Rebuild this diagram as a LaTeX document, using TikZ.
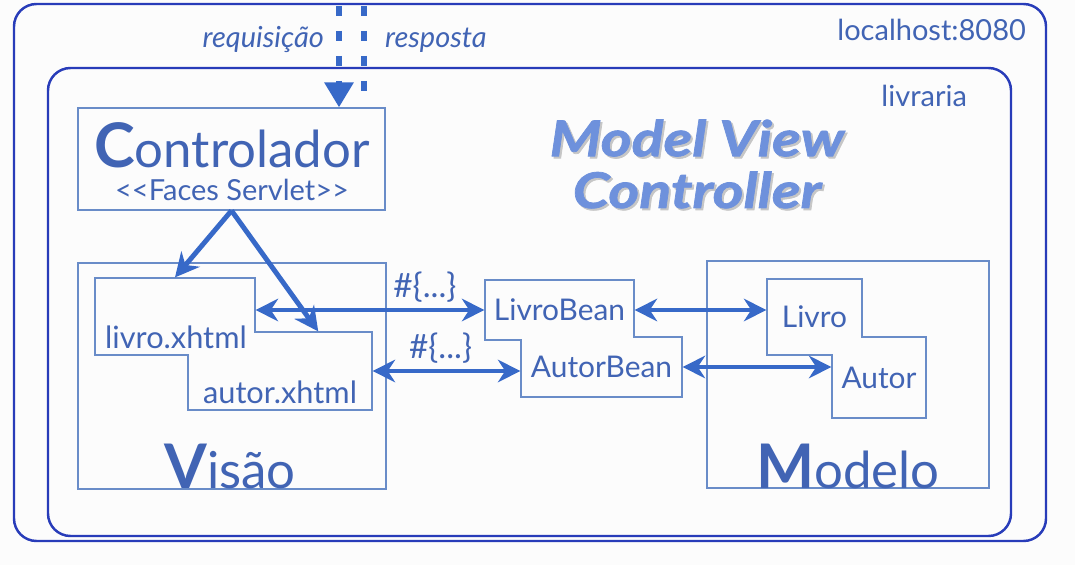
\documentclass[tikz,border=0pt]{standalone}
\usepackage{fontspec}
\setmainfont{Lato}
\newfontfamily\mvcfont{Lato}[FakeBold=1.5, FakeStretch=1.2]
\usetikzlibrary{arrows.meta}

\definecolor{framecol}{RGB}{40,60,185}
\definecolor{boxcol}{RGB}{105,140,200}
\definecolor{arrowcol}{RGB}{55,105,200}
\definecolor{textcol}{RGB}{65,100,180}
\definecolor{mvccol}{RGB}{110,145,220}
\definecolor{bgcol}{RGB}{252,252,252}

\tikzset{
  frame/.style={draw=framecol, line width=1.4pt, rounded corners=0.45cm},
  box/.style={draw=boxcol, line width=0.7pt, inner sep=0pt},
  txt/.style={text=textcol, inner sep=1pt},
  link/.style={draw=arrowcol, line width=2.8pt,
    {Stealth[length=0.45cm,width=0.45cm]}-{Stealth[length=0.45cm,width=0.45cm]}},
  ctrllink/.style={draw=arrowcol, line width=2.8pt, -{Stealth[length=0.48cm,width=0.48cm]}},
  web/.style={draw=arrowcol, line width=3.4pt, dash pattern=on 0.2cm off 0.3cm}
}

\begin{document}
\begin{tikzpicture}[x=0.02cm, y=-0.02cm]
  \fill[bgcol] (0,0) rectangle (1075,565);
  \useasboundingbox (0,0) rectangle (1075,565);

  % servidor e aplicacao
  \draw[frame] (14,4) rectangle (1046,541);
  \draw[frame] (48,68) rectangle (1011,536);
  \node[txt, anchor=east, font=\fontsize{16.5}{18}\selectfont] (host) at (1028,30) {localhost:8080};
  \node[txt, anchor=east, font=\fontsize{16.5}{18}\selectfont] (app) at (969,96) {livraria};

  % MVC
  \node[text=gray!45, align=center, font=\mvcfont\fontsize{28}{29.5}\selectfont\bfseries\itshape] (mvcshadow) at (699,166) {Model View\\Controller};
  \node[text=mvccol, align=center, font=\mvcfont\fontsize{28}{29.5}\selectfont\bfseries\itshape] (mvc) at (697,164) {Model View\\Controller};

  % caixas
  \node[box, minimum width=6.14cm, minimum height=2.04cm] (ctrl) at (231.5,159) {};
  \node[box, minimum width=6.16cm, minimum height=4.52cm] (visao) at (232,376) {};
  \node[box, minimum width=5.64cm, minimum height=4.54cm] (modelo) at (848,374.5) {};
  \node[box, minimum width=3.2cm, minimum height=1.54cm] (livroxhtml) at (175,316.5) {};
  \node[box, minimum width=3.68cm, minimum height=1.56cm] (autorxhtml) at (280,371) {};
  \node[box, minimum width=2.98cm, minimum height=1.2cm] (livrobean) at (559.5,310) {};
  \node[box, minimum width=3.22cm, minimum height=1.2cm] (autorbean) at (601.5,367) {};
  \node[box, minimum width=1.9cm, minimum height=1.52cm] (livro) at (814.5,317) {};
  \node[box, minimum width=1.88cm, minimum height=1.62cm] (autor) at (879,377.5) {};
  \foreach \b in {livroxhtml,autorxhtml,livrobean,autorbean,livro,autor}
    \fill[bgcol] ([shift={(0.75pt,0.75pt)}]\b.south west) rectangle ([shift={(-0.75pt,-0.75pt)}]\b.north east);

  % textos
  \node[txt, font=\fontsize{29}{30}\selectfont] (ctrltitle) at (232,145) {{\fontsize{35}{30}\selectfont\bfseries C}ontrolador};
  \node[txt, font=\fontsize{16.5}{18}\selectfont] (ctrlsub) at (232,190) {<{}<Faces Servlet>{}>};
  \node[txt, font=\fontsize{29}{30}\selectfont] (visaotxt) at (230,466) {{\fontsize{35}{30}\selectfont\bfseries V}isão};
  \node[txt, font=\fontsize{29}{30}\selectfont] (modelotxt) at (848,466) {{\fontsize{35}{30}\selectfont\bfseries M}odelo};
  \node[txt, font=\fontsize{17.5}{20}\selectfont] (livroxhtmltxt) at (176,337) {livro.xhtml};
  \node[txt, font=\fontsize{17.5}{20}\selectfont] (autorxhtmltxt) at (280,392) {autor.xhtml};
  \node[txt, font=\fontsize{17}{20}\selectfont] (livrobeantxt) at (livrobean) {LivroBean};
  \node[txt, font=\fontsize{17}{20}\selectfont] (autorbeantxt) at (autorbean) {AutorBean};
  \node[txt, font=\fontsize{17}{20}\selectfont] (livrotxt) at (livro) {Livro};
  \node[txt, font=\fontsize{17}{20}\selectfont] (autortxt) at (autor) {Autor};

  % requisicao e resposta
  \coordinate (reqtop) at (339,6);
  \coordinate (resptop) at (364,6);
  \coordinate (respbot) at (364,94);
  \draw[web, -{Triangle[length=0.5cm,width=0.56cm]}] (reqtop) -- (reqtop |- ctrl.north);
  \draw[web] (resptop) -- (respbot);
  \node[txt, anchor=east, font=\fontsize{16.5}{18}\selectfont\itshape] (req) at (326,40) {requisição};
  \node[txt, anchor=west, font=\fontsize{16.5}{18}\selectfont\itshape] (resp) at (383,40) {resposta};

  % ligacoes
  \draw[ctrllink] (ctrl.south) -- (livroxhtml.north);
  \draw[ctrllink] (ctrl.south) -- (autorxhtml.46);
  \draw[link] (livrobean.west -| livroxhtml.east) -- (livrobean.west)
    node[pos=0.74, above=2pt, txt, font=\fontsize{19}{20}\selectfont] (el1) {\#\{...\}};
  \draw[link] (autorxhtml.east) -- (autorxhtml.east -| autorbean.west)
    node[pos=0.46, above=2pt, txt, font=\fontsize{19}{20}\selectfont] (el2) {\#\{...\}};
  \draw[link] (livrobean.east) -- (livrobean.east -| livro.west);
  \draw[link] (autorbean.east) -- (autorbean.east -| autor.west);
\end{tikzpicture}
\end{document}
